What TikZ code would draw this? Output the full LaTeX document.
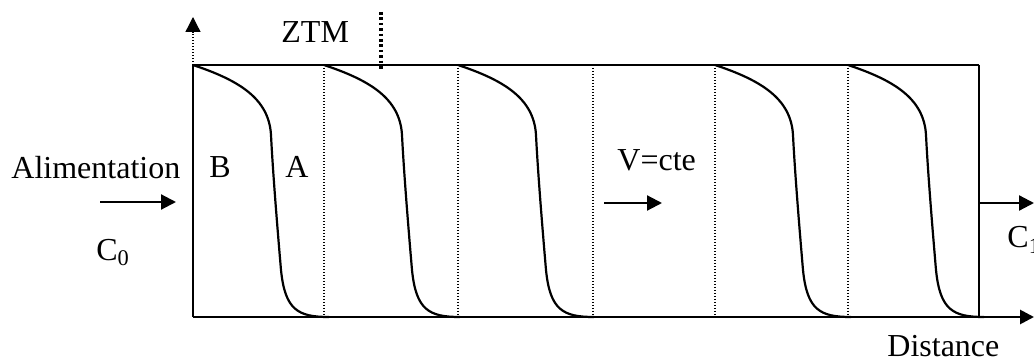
\documentclass[tikz,border=0pt]{standalone}
\usepackage{fontspec}
\setmainfont{Liberation Serif}
\usetikzlibrary{arrows.meta}

\begin{document}
\begin{tikzpicture}[
  x=0.5pt, y=-0.5pt,
  every node/.style={font=\fontsize{16}{19}\selectfont, inner sep=0pt},
  axe/.style={line width=1.4pt},
  profil/.style={line width=1.1pt},
  pointille/.style={line width=0.65pt, dash pattern=on 0.6pt off 0.9pt},
  ztm/.style={line width=1.7pt, dash pattern=on 1.3pt off 1.4pt},
  fleche/.style={line width=1.1pt, -{Triangle[length=7.5pt, width=7.5pt]}},
]
  % cadre de la colonne (coordonnees en pixels de l'image)
  \useasboundingbox (0,0) rectangle (1034,358);
  \coordinate (O) at (193,317);
  \coordinate (H) at (193,65);
  \coordinate (Y) at (193,17);
  \coordinate (X) at (1034,317);
  \coordinate (R) at (979,65);
  \coordinate (S) at (979,317);

  \draw[axe] (O) -- (H);
  \draw[pointille, -{Triangle[length=7.5pt, width=7.5pt]}] (H) -- (Y);
  \draw[axe, -{Triangle[length=7pt, width=7pt]}] (O) -- (X);
  \draw[axe] (H) -- (R);
  \draw[axe] (R) -- (S);

  % separations entre les tranches
  \foreach \x in {324,458,593,715,848}
    \draw[pointille] (\x,65) -- (\x,317);
  \coordinate (Z1) at (381,12);
  \coordinate (Z2) at (381,70);
  \draw[ztm] (Z1) -- (Z2);

  % fronts de concentration
  \foreach \s in {193,324,458,715,848}
    \draw[profil] (\s,65) .. controls (\s+45,80) and (\s+76,98) .. (\s+78,135)
      .. controls (\s+80,175) and (\s+85,235) .. (\s+88,270)
      .. controls (\s+92,310) and (\s+105,317) .. (\s+136,317);

  % fleches d'entree, de sortie et de vitesse
  \coordinate (E1) at (100,202);
  \coordinate (E2) at (176,202);
  \coordinate (V1) at (604,203);
  \coordinate (V2) at (662,203);
  \coordinate (S1) at (979,203);
  \coordinate (S2) at (1034,203);
  \draw[fleche] (E1) -- (E2);
  \draw[fleche] (V1) -- (V2);
  \draw[fleche] (S1) -- (S2);

  \node[anchor=base west] (alim) at (11,178) {Alimentation};
  \node[anchor=base west] (c0) at (96,260) {C\textsubscript{0}};
  \node[anchor=base west] (b) at (209,177) {B};
  \node[anchor=base west] (a) at (285,177) {A};
  \node[anchor=base west] (ztmlab) at (281,43) {ZTM};
  \node[anchor=base west] (vcte) at (617,170) {V=cte};
  \node[anchor=base west] (c1) at (1007,248) {C\textsubscript{1}};
  \node[anchor=base west] (dist) at (887,356) {Distance};
\end{tikzpicture}
\end{document}
